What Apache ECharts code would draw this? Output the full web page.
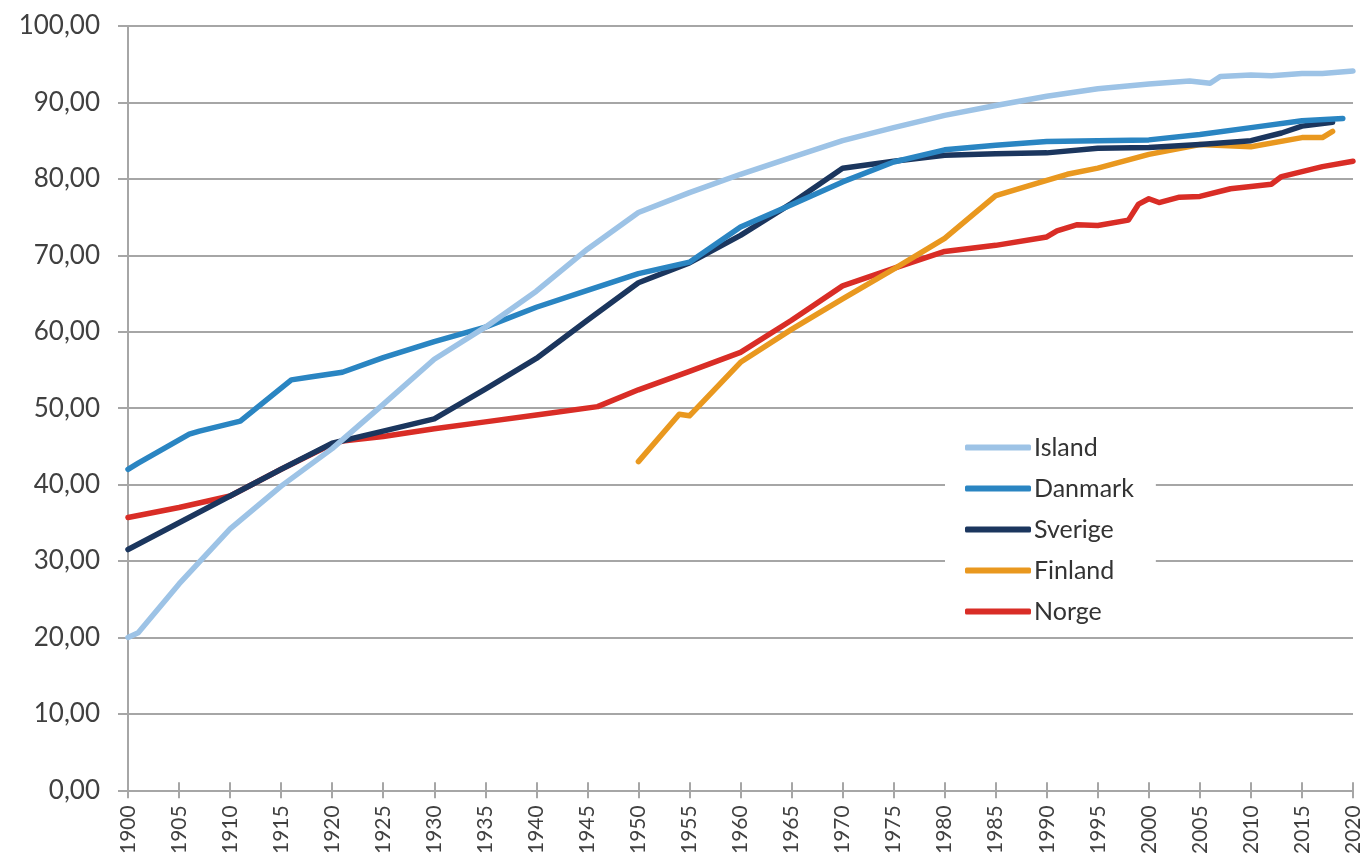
<!DOCTYPE html>
<html>
<head>
<meta charset="utf-8">
<script src="https://cdn.jsdelivr.net/npm/echarts@6/dist/echarts.min.js"></script>
<style>
html,body{margin:0;padding:0;background:#fff;}
#chart{width:1366px;height:857px;}
</style>
</head>
<body>
<div id="chart"></div>
<script>
const seriesNames = ['Island','Danmark','Sverige','Finland','Norge'];
const seriesColors = ['#9DC3E6','#2A85C2','#1B365E','#E9981F','#D92D26'];

const islandYears = [1900,1901,1905,1910,1915,1920,1925,1930,1935,1940,1945,1950,1955,1960,1965,1970,1975,1980,1985,1990,1995,2000,2004,2006,2007,2010,2012,2015,2017,2020];
const islandValues = [20.0,20.6,27.0,34.2,39.8,44.7,50.5,56.4,60.6,65.3,70.8,75.6,78.2,80.6,82.8,85.0,86.7,88.3,89.6,90.8,91.8,92.4,92.8,92.5,93.4,93.6,93.5,93.8,93.8,94.1];

const danmarkYears = [1900,1901,1906,1907,1911,1916,1918,1921,1925,1930,1935,1940,1945,1950,1955,1960,1965,1970,1975,1980,1985,1990,1995,2000,2005,2010,2015,2019];
const danmarkValues = [42.0,42.8,46.6,47.0,48.3,53.7,54.1,54.7,56.6,58.7,60.6,63.2,65.4,67.6,69.1,73.7,76.6,79.6,82.2,83.8,84.4,84.9,85.0,85.1,85.8,86.7,87.6,87.9];

const sverigeYears = [1900,1905,1910,1915,1920,1925,1930,1935,1940,1945,1950,1955,1960,1965,1970,1975,1980,1985,1990,1995,2000,2005,2010,2013,2015,2018];
const sverigeValues = [31.5,35.0,38.5,42.0,45.4,47.0,48.6,52.5,56.5,61.5,66.4,69.0,72.6,76.8,81.4,82.3,83.1,83.3,83.4,84.0,84.1,84.5,85.0,86.0,86.9,87.4];

const finlandYears = [1950,1954,1955,1960,1965,1970,1975,1980,1985,1990,1992,1995,2000,2005,2010,2015,2017,2018];
const finlandValues = [43.0,49.2,49.0,56.0,60.3,64.3,68.2,72.2,77.8,79.8,80.6,81.4,83.2,84.5,84.2,85.4,85.4,86.2];

const norgeYears = [1900,1905,1910,1915,1920,1921,1925,1930,1935,1940,1946,1950,1955,1960,1965,1970,1975,1980,1985,1990,1991,1993,1995,1998,1999,2000,2001,2003,2005,2008,2012,2013,2017,2020];
const norgeValues = [35.7,37.0,38.5,42.0,45.3,45.7,46.3,47.3,48.2,49.1,50.2,52.4,54.8,57.3,61.5,66.0,68.3,70.5,71.3,72.4,73.2,74.0,73.9,74.6,76.7,77.4,76.9,77.6,77.7,78.7,79.3,80.3,81.6,82.3];

const yearsList = [islandYears, danmarkYears, sverigeYears, finlandYears, norgeYears];
const valuesList = [islandValues, danmarkValues, sverigeValues, finlandValues, norgeValues];

const FONT = 'Lato, "Open Sans", sans-serif';
const chart = echarts.init(document.getElementById('chart'));

const series = seriesNames.map((name, i) => ({
  name: name,
  type: 'line',
  showSymbol: false,
  symbol: 'none',
  smooth: false,
  data: yearsList[i].map((y, k) => [y, valuesList[i][k]]),
  lineStyle: { color: seriesColors[i], width: 5.5, cap: 'round', join: 'round' },
  itemStyle: { color: seriesColors[i] },
  z: 10 - i
}));

chart.setOption({
  animation: false,
  backgroundColor: '#fff',
  grid: { left: 128, right: 13, top: 26, bottom: 65, containLabel: false },
  xAxis: [{
    type: 'value', min: 1900, max: 2020, interval: 5,
    axisLine: { show: true, lineStyle: { color: '#A6A6A6', width: 2 } },
    axisTick: { show: true, length: 8, lineStyle: { color: '#A6A6A6', width: 2 } },
    splitLine: { show: false },
    axisLabel: { rotate: 90, fontSize: 21, color: '#404040', fontFamily: FONT, margin: 15,
      formatter: v => String(v) }
  }, {
    type: 'value', min: 1900, max: 2020, interval: 5, position: 'bottom',
    axisLine: { show: false },
    axisTick: { show: true, inside: true, length: 8, lineStyle: { color: '#A6A6A6', width: 2 } },
    splitLine: { show: false },
    axisLabel: { show: false }
  }],
  yAxis: {
    type: 'value', min: 0, max: 100, interval: 10,
    axisLine: { show: true, lineStyle: { color: '#A6A6A6', width: 2 } },
    axisTick: { show: true, length: 10, lineStyle: { color: '#A6A6A6', width: 2 } },
    splitLine: { show: true, lineStyle: { color: '#A6A6A6', width: 2 } },
    axisLabel: {
      fontSize: 26, color: '#404040', fontFamily: FONT, margin: 28,
      formatter: v => v.toFixed(2).replace('.', ',')
    }
  },
  legend: {
    orient: 'vertical',
    left: 945, top: 427,
    backgroundColor: '#fff',
    padding: [8, 22, 8, 20],
    itemGap: 16,
    itemWidth: 66, itemHeight: 6,
    icon: 'roundRect',
    textStyle: { fontSize: 25, color: '#333', fontFamily: FONT, padding: [0, 0, 0, -2] },
    data: seriesNames
  },
  series: series
});
</script>
</body>
</html>
